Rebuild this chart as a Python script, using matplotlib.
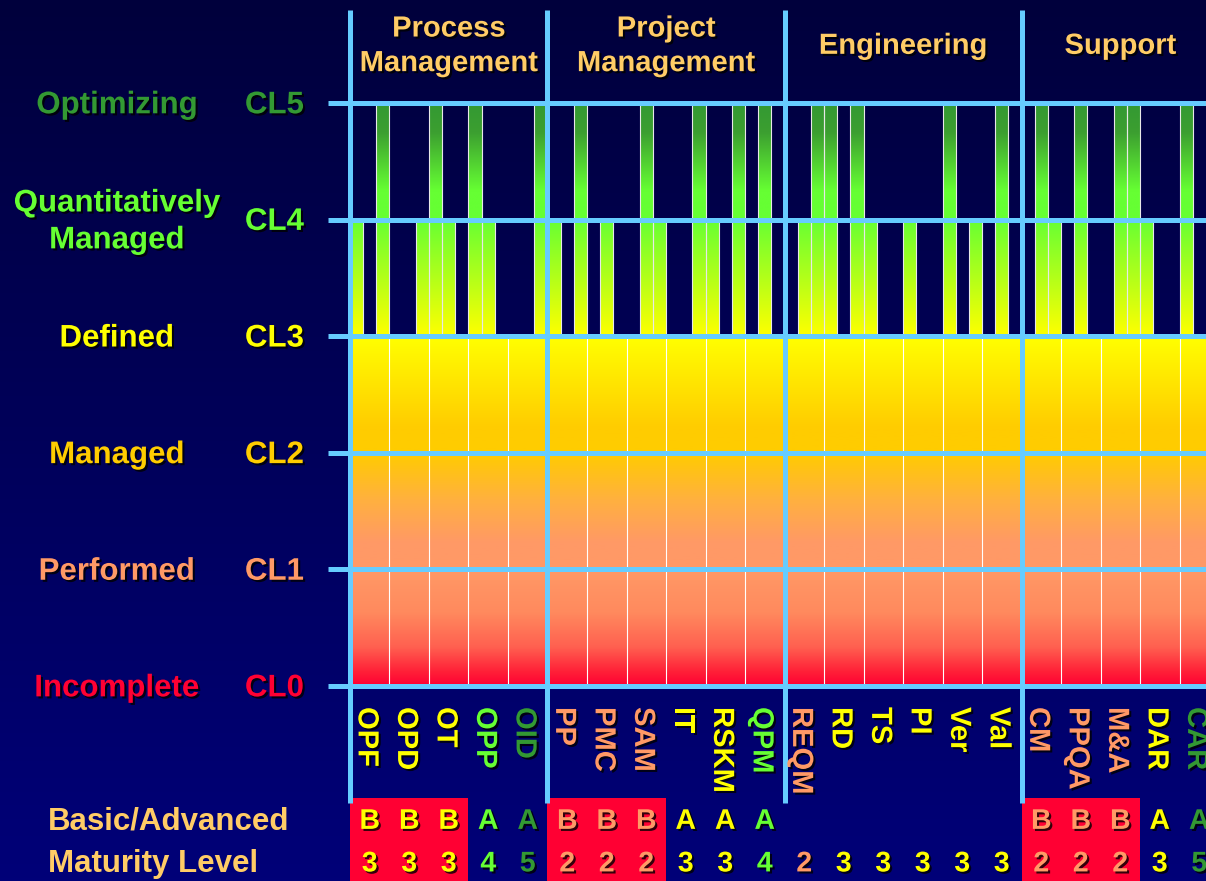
import numpy as np
import matplotlib
matplotlib.use('Agg')
import matplotlib.pyplot as plt
import matplotlib.patheffects as pe
from matplotlib.colors import LinearSegmentedColormap
from matplotlib.patches import Rectangle

plt.rcParams['font.family'] = ['Liberation Sans', 'DejaVu Sans']
plt.rcParams['font.weight'] = 'bold'

# 能力等级 CL0..CL5
levels = ['CL0', 'CL1', 'CL2', 'CL3', 'CL4', 'CL5']
level_names = ['Incomplete', 'Performed', 'Managed', 'Defined',
               'Quantitatively\nManaged', 'Optimizing']
level_colors = ['#FF0033', '#FF9966', '#FFCC00', '#FFFF00', '#66FF33', '#339933']

# 过程域分类
categories = ['Process\nManagement', 'Project\nManagement', 'Engineering', 'Support']
category_sizes = [5, 6, 6, 5]

process_areas = ['OPF', 'OPD', 'OT', 'OPP', 'OID',
                 'PP', 'PMC', 'SAM', 'IT', 'RSKM', 'QPM',
                 'REQM', 'RD', 'TS', 'PI', 'Ver', 'Val',
                 'CM', 'PPQA', 'M&A', 'DAR', 'CAR']
basic_advanced = ['B', 'B', 'B', 'A', 'A',
                  'B', 'B', 'B', 'A', 'A', 'A',
                  '', '', '', '', '', '',
                  'B', 'B', 'B', 'A', 'A']
maturity = [3, 3, 3, 4, 5,
            2, 2, 2, 3, 3, 4,
            2, 3, 3, 3, 3, 3,
            2, 2, 2, 3, 5]
ml_colors = {2: '#FF9966', 3: '#FFFF00', 4: '#66FF33', 5: '#339933'}

# CL3 以上的细条: 每个过程域 3 个槽位, 索引 = 3*列 + 槽
slots_cl4 = [0, 2, 5, 6, 7, 9, 10, 14,
             15, 17, 19, 22, 23, 26, 27, 29, 31,
             34, 35, 36, 38, 39, 42, 45, 47, 49,
             52, 53, 55, 58, 59, 60, 63]
slots_cl5 = [2, 6, 9, 14,
             17, 22, 26, 29, 31,
             35, 36, 38, 45, 49,
             52, 55, 58, 59, 63]

# 颜色
line_color = '#66CCFF'
header_color = '#FFCC66'
box_red = '#FF0033'

bg_cmap = LinearSegmentedColormap.from_list('bg', ['#000078', '#00003C'])
low_cmap = LinearSegmentedColormap.from_list('low', [
    (0.0, '#FF0033'), (0.04, '#FF2038'), (0.11, '#FF6050'), (0.21, '#FF8A5E'),
    (0.333, '#FF9966'), (0.41, '#FF9966'), (0.53, '#FFB040'), (0.667, '#FFCC00'),
    (0.74, '#FFCC00'), (1.0, '#FFFF00')])
cl4_cmap = LinearSegmentedColormap.from_list('cl4', ['#FFFF00', '#66FF33'])
cl5_cmap = LinearSegmentedColormap.from_list('cl5', [
    (0.0, '#66FF33'), (0.25, '#66FF33'), (0.75, '#3C9F30'), (1.0, '#339933')])

shadow = [pe.withSimplePatchShadow(offset=(1.5, -1.5), shadow_rgbFace='black', alpha=0.8)]

grad = np.linspace(0, 1, 256).reshape(-1, 1)
n = len(process_areas)
x_lo, x_hi = -8.86, 21.67
y_lo, y_hi = -1.672, 5.883

fig = plt.figure(figsize=(12.06, 8.81), dpi=100)
ax = fig.add_axes([0, 0, 1, 1])
ax.axis('off')

# 背景
ax.imshow(grad, extent=[x_lo, x_hi, y_lo, y_hi], origin='lower', cmap=bg_cmap,
          aspect='auto', zorder=0)

# CL0-CL3 整列填充
ax.imshow(grad, extent=[0, n, 0, 3], origin='lower', cmap=low_cmap,
          aspect='auto', zorder=1)
ax.vlines(np.arange(1, n), 0, 3, color='white', lw=0.8, zorder=2)

# CL3 以上的细条
w = 1 / 3
for slots, base, cmap in [(slots_cl4, 3, cl4_cmap), (slots_cl5, 4, cl5_cmap)]:
    for s in slots:
        x0 = s * w
        ax.imshow(grad, extent=[x0, x0 + w, base, base + 1], origin='lower',
                  cmap=cmap, aspect='auto', zorder=2)
        ax.add_patch(Rectangle((x0, base), w, 1, fill=False, ec='#E8E8E8',
                               lw=0.8, zorder=3))

# 网格线
ax.hlines(range(len(levels)), -0.56, x_hi, color=line_color, lw=3.6, zorder=4)
bounds = np.concatenate([[0], np.cumsum(category_sizes)[:-1]])
ax.vlines(bounds, -1.0, 5.8, color=line_color, lw=3.6, zorder=6)

# 左侧等级标签
for i, (lv, name, c) in enumerate(zip(levels, level_names, level_colors)):
    ax.text(-5.9, i - 0.02, name, color=c, fontsize=22.5, ha='center', va='center',
            linespacing=1.3, path_effects=shadow, zorder=7)
    ax.text(-2.66, i - 0.02, lv, color=c, fontsize=22.5, ha='left', va='center',
            path_effects=shadow, zorder=7)

# 分类标题
starts = np.concatenate([[0], np.cumsum(category_sizes)])
for k, cat in enumerate(categories):
    cx = (starts[k] + starts[k + 1]) / 2
    ax.text(cx, 5.49, cat, color=header_color, fontsize=21, ha='center', va='center',
            linespacing=1.3, path_effects=shadow, zorder=7)

# 过程域名称 + 基本/高级 + 成熟度等级
for i, (pa, ba, ml) in enumerate(zip(process_areas, basic_advanced, maturity)):
    c = ml_colors[ml]
    ax.text(i + 0.42, -0.18, pa, color=c, fontsize=21, rotation=-90,
            ha='center', va='top', path_effects=shadow, zorder=7)
    if ba == 'B':
        ax.add_patch(Rectangle((i, y_lo), 1, -0.96 - y_lo, fc=box_red, ec='none',
                               zorder=5))
    if ba:
        ax.text(i + 0.5, -1.165, ba, color=c, fontsize=20.5, ha='center', va='center',
                path_effects=shadow, zorder=7)
    ax.text(i + 0.5, -1.53, str(ml), color=c, fontsize=20.5, ha='center',
            va='center', path_effects=shadow, zorder=7)

ax.text(-7.65, -1.165, 'Basic/Advanced', color=header_color, fontsize=22.5,
        ha='left', va='center', zorder=7)
ax.text(-7.65, -1.53, 'Maturity Level', color=header_color, fontsize=22.5,
        ha='left', va='center', zorder=7)

ax.set_xlim(x_lo, x_hi)
ax.set_ylim(y_lo, y_hi)

fig.savefig('out.png', dpi=100)
